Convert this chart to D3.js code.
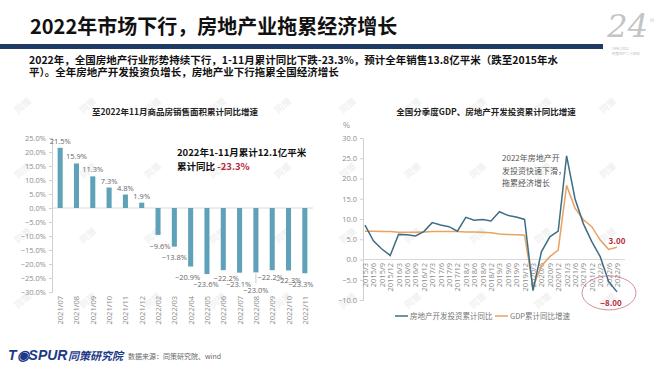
<!DOCTYPE html>
<html><head><meta charset="utf-8">
<script src="https://cdn.jsdelivr.net/npm/d3@7"></script>
<style>
html,body{margin:0;padding:0;background:#fff;}
svg{display:block;font-family:"Noto Sans CJK SC","Noto Sans",sans-serif;}
</style></head>
<body><svg id="c" width="660" height="372"></svg>
<script>
// ---- data ----
const titleText = "2022年市场下行，房地产业拖累经济增长";
const subLines = ["2022年，全国房地产行业形势持续下行，1-11月累计同比下跌-23.3%，预计全年销售13.8亿平米（跌至2015年水",
                  "平）。全年房地产开发投资负增长，房地产业下行拖累全国经济增长"];
const leftTitle = "至2022年11月商品房销售面积累计同比增速";
const leftCats = ["2021/07","2021/08","2021/09","2021/10","2021/11","2021/12","2022/02","2022/03","2022/04","2022/05","2022/06","2022/07","2022/08","2022/09","2022/10","2022/11"];
const leftVals = [21.5,15.9,11.3,7.3,4.8,1.9,-9.6,-13.8,-20.9,-23.6,-22.2,-23.1,-23.0,-22.2,-22.3,-23.3];
const leftTicks = [25,20,15,10,5,0,-5,-10,-15,-20,-25,-30];

const rightTitle = "全国分季度GDP、房地产开发投资累计同比增速";
const quarters = ["2015/3","2015/6","2015/9","2015/12","2016/3","2016/6","2016/9","2016/12","2017/3","2017/6","2017/9","2017/12","2018/3","2018/6","2018/9","2018/12","2019/3","2019/6","2019/9","2019/12","2020/3","2020/6","2020/9","2020/12","2021/3","2021/6","2021/9","2021/12","2022/3","2022/6","2022/9"];
const investVals = [8.5,4.6,2.6,1.0,6.2,6.1,5.8,6.9,9.1,8.5,8.1,7.0,10.4,9.7,9.9,9.5,11.8,10.9,10.5,9.9,-7.7,1.9,5.6,7.0,25.6,15.0,8.8,4.4,0.7,-5.4,-8.0];
const gdpVals = [7.0,7.0,6.9,6.9,6.7,6.7,6.7,6.8,6.9,6.9,6.9,6.9,6.8,6.8,6.7,6.6,6.3,6.2,6.1,6.0,-6.8,-1.6,0.7,2.3,18.3,12.7,9.8,8.1,4.8,2.5,3.0];
const rightTicks = [30,25,20,15,10,5,0,-5,-10];
const seriesNames = ["房地产开发投资累计同比","GDP累计同比增速"];

// ---- layout / style ----
const svg = d3.select("#c");
const INV = "#3f6e83", GDP = "#e9a262", BAR = "#5ea1b8", AX = "#8c8c8c", RED = "#b8283a";

// watermarks
const wm = svg.append("g").attr("fill","#f1f1f1").attr("font-size",9).attr("font-weight","bold");
for (let gx = 25; gx < 660; gx += 65) for (let gy = 108; gy < 340; gy += 65) {
  wm.append("text").attr("transform",`translate(${gx},${gy}) rotate(-40)`).attr("text-anchor","middle").text("同策");
}

// header
svg.append("text").attr("x",30).attr("y",34).attr("font-size",20).attr("font-weight","bold").attr("fill","#111").text(titleText);
svg.append("rect").attr("x",0).attr("y",44).attr("width",603).attr("height",5).attr("fill","#1f3a64");
subLines.forEach((t,i)=>svg.append("text").attr("x",29).attr("y",64+i*12).attr("font-size",10.5).attr("font-weight","bold").attr("fill","#111").text(t));
// 24 logo
svg.append("text").attr("x",648).attr("y",37).attr("text-anchor","end").attr("font-family","'DejaVu Serif','Liberation Serif',serif")
  .attr("font-style","italic").attr("font-size",32).attr("fill","#c4c4c4").text("24");
svg.append("text").attr("x",650).attr("y",22).attr("font-size",4).attr("fill","#bbb").text("th");
svg.append("text").attr("x",612).attr("y",50).attr("font-size",3.5).attr("fill","#bbb").text("1998-2022");
svg.append("text").attr("x",612).attr("y",55).attr("font-size",3.5).attr("fill","#bbb").text("同策地产二十四年");

// ---- left chart ----
const lx = d3.scaleBand().domain(leftCats).range([52,313]).paddingInner(0.69).paddingOuter(0.345);
const ly = d3.scaleLinear().domain([-30,25]).range([292,138]);
const L = svg.append("g");
L.append("text").attr("x",175).attr("y",115).attr("text-anchor","middle").attr("font-size",8.5).attr("font-weight","bold").attr("fill","#222").text(leftTitle);
const lya = L.append("g").attr("transform","translate(52,0)").call(d3.axisLeft(ly).tickValues(leftTicks).tickSize(3).tickFormat(d=>d3.format(".1f")(d)+"%"));
lya.select(".domain").attr("stroke","#d0d0d0");
lya.selectAll(".tick line").attr("stroke","#d0d0d0");
lya.selectAll(".tick text").attr("fill",AX).attr("font-size",7.5).attr("font-family","'Open Sans','Noto Sans',sans-serif");
L.append("line").attr("x1",52).attr("x2",313).attr("y1",ly(0)).attr("y2",ly(0)).attr("stroke","#d9d9d9");
L.selectAll("rect.bar").data(leftVals).join("rect").attr("class","bar")
  .attr("x",(d,i)=>lx(leftCats[i])).attr("width",lx.bandwidth())
  .attr("y",d=>ly(Math.max(0,d))).attr("height",d=>Math.abs(ly(d)-ly(0))).attr("fill",BAR);
// label nudges (layout only)
const nudgeX = [0,0,0,0,0,0,2,0,-3,-1,3,-1,0,-2,0,-4];
const nudgeY = [0,0,0,0,0,0,1,0,0,0,-2,1,8,-3,0,1];
L.selectAll("text.vl").data(leftVals).join("text").attr("class","vl")
  .attr("x",(d,i)=>lx(leftCats[i])+lx.bandwidth()/2+nudgeX[i])
  .attr("y",(d,i)=>d>=0 ? ly(d)-4 : ly(d)+13+nudgeY[i])
  .attr("text-anchor","middle").attr("font-size",7.5).attr("fill","#666").attr("font-family","'Open Sans','Noto Sans',sans-serif")
  .text(d=>d3.format(".1f")(d)+"%");
// leader line for 2022/08
{ const i = 12; const cx = lx(leftCats[i])+lx.bandwidth()/2;
  L.append("line").attr("x1",cx).attr("x2",cx).attr("y1",ly(leftVals[i])+1).attr("y2",ly(leftVals[i])+11).attr("stroke","#aaa").attr("stroke-width",0.6); }
L.selectAll("text.xl").data(leftCats).join("text").attr("class","xl")
  .attr("transform",d=>`translate(${lx(d)+lx.bandwidth()/2+3},296) rotate(-90)`)
  .attr("text-anchor","end").attr("font-size",7.5).attr("fill",AX).attr("font-family","'Open Sans','Noto Sans',sans-serif").text(d=>d);
L.append("text").attr("x",177).attr("y",156).attr("font-size",9.5).attr("font-weight","bold").attr("fill","#111").text("2022年1-11月累计12.1亿平米");
const ann2 = L.append("text").attr("x",177).attr("y",170).attr("font-size",9.5).attr("font-weight","bold").attr("fill","#111");
ann2.append("tspan").text("累计同比 ");
ann2.append("tspan").attr("fill",RED).text("-23.3%");

// ---- right chart ----
const rx = d3.scalePoint().domain(quarters).range([365,617]);
const ry = d3.scaleLinear().domain([-10,30]).range([300,138]);
const R = svg.append("g");
R.append("text").attr("x",486).attr("y",115).attr("text-anchor","middle").attr("font-size",8.5).attr("font-weight","bold").attr("fill","#222").text(rightTitle);
R.append("text").attr("x",343).attr("y",128).attr("font-size",7.5).attr("fill",AX).text("%");
const rya = R.append("g").attr("transform","translate(363,0)").call(d3.axisLeft(ry).tickValues(rightTicks).tickSize(3).tickFormat(d3.format(".1f")));
rya.select(".domain").attr("stroke","#d0d0d0");
rya.selectAll(".tick line").attr("stroke","#d0d0d0");
rya.selectAll(".tick text").attr("fill",AX).attr("font-size",7.5).attr("font-family","'Open Sans','Noto Sans',sans-serif");
R.append("line").attr("x1",363).attr("x2",625).attr("y1",ry(0)).attr("y2",ry(0)).attr("stroke","#d9d9d9");
R.selectAll("text.xl").data(quarters).join("text").attr("class","xl")
  .attr("transform",d=>`translate(${rx(d)+3},263) rotate(-90)`)
  .attr("text-anchor","end").attr("font-size",7.5).attr("fill",AX).attr("font-family","'Open Sans','Noto Sans',sans-serif").text(d=>d);
const line = d3.line().x((d,i)=>rx(quarters[i])).y(d=>ry(d));
R.append("path").datum(gdpVals).attr("d",line).attr("fill","none").attr("stroke",GDP).attr("stroke-width",1.5);
R.append("path").datum(investVals).attr("d",line).attr("fill","none").attr("stroke",INV).attr("stroke-width",1.5);
// end labels
const nL = quarters.length-1;
R.append("text").attr("x",rx(quarters[nL])).attr("y",ry(gdpVals[nL])-3).attr("text-anchor","middle").attr("font-size",8).attr("font-weight","bold").attr("fill",RED).text(d3.format(".2f")(gdpVals[nL]));
R.append("text").attr("x",rx(quarters[nL])-6).attr("y",ry(investVals[nL])+14).attr("text-anchor","middle").attr("font-size",8).attr("font-weight","bold").attr("fill",RED).text(d3.format(".2f")(investVals[nL]));
R.append("ellipse").attr("cx",rx(quarters[nL])-8).attr("cy",ry(investVals[nL])+1).attr("rx",27).attr("ry",17).attr("fill","none").attr("stroke","#c9727f").attr("stroke-width",0.8);
["2022年房地产开","发投资快速下滑，","拖累经济增长"].forEach((t,i)=>R.append("text").attr("x",502).attr("y",161+i*12.5).attr("font-size",8).attr("fill","#555").text(t));
// legend
const lg = R.append("g").attr("font-size",7.5).attr("fill","#777");
[[395,INV,seriesNames[0]],[495,GDP,seriesNames[1]]].forEach(([x,c,t])=>{
  lg.append("line").attr("x1",x).attr("x2",x+13).attr("y1",316).attr("y2",316).attr("stroke",c).attr("stroke-width",1.5);
  lg.append("text").attr("x",x+15).attr("y",319).text(t);
});

// ---- footer ----
const F = svg.append("g");
F.append("text").attr("x",8).attr("y",360).attr("font-family","'Liberation Sans',Arial,sans-serif").attr("font-size",14).attr("font-weight","bold").attr("font-style","italic").attr("fill","#1d3a8a").text("T\u25C9SPUR");
F.append("text").attr("x",68).attr("y",360).attr("font-size",11).attr("font-weight","bold").attr("font-style","italic").attr("fill","#1d3a8a").text("同策研究院");
F.append("text").attr("x",128).attr("y",359).attr("font-size",7).attr("fill","#666").text("数据来源：同策研究院、wind");
</script></body></html>
